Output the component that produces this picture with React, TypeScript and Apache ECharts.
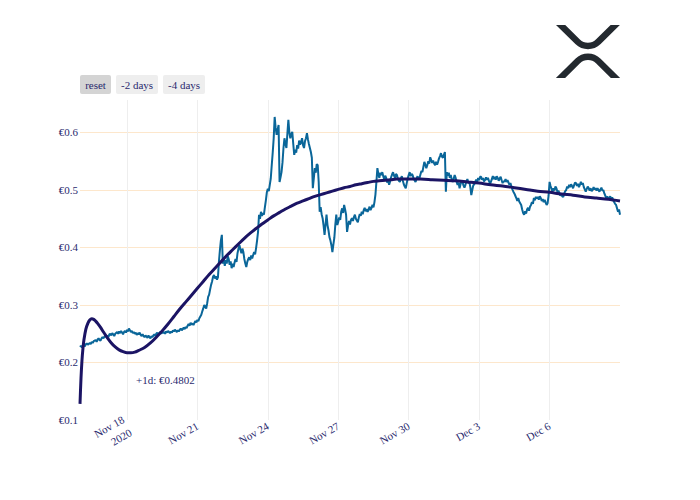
import React, { useEffect, useRef } from "react";
import * as echarts from "echarts";

// x values are hours since 16 Nov 2020 00:00
const END_HOURS = 552; // 9 Dec 2020 00:00

// XRP price in EUR (hour offset, price)
const priceData: [number, number][] = [
  [0,0.227],[1,0.229],[2,0.226],[3,0.230],[4,0.231],[5,0.228],[6,0.232],[7,0.233],[8,0.231],[10,0.234],[11,0.232],[12,0.236],[13,0.234],[14,0.237],[16,0.239],[17,0.236],[18,0.240],[19,0.242],[20,0.239],[21,0.238],[22,0.242],[23,0.244],[24,0.242],[25,0.245],[26,0.247],[27,0.244],[28,0.247],[29,0.244],[30,0.249],[31,0.250],[32,0.247],[33,0.251],[34,0.249],[35,0.246],[36,0.250],[38,0.253],[39,0.250],[40,0.254],[41,0.251],[42,0.255],[43,0.252],[44,0.249],[45,0.253],[46,0.255],[47,0.252],[48,0.257],[49,0.254],[50,0.259],[51,0.256],[52,0.253],[53,0.255],[54,0.251],[55,0.253],[56,0.250],[57,0.252],[58,0.248],[59,0.251],[60,0.249],[61,0.252],[62,0.248],[63,0.246],[64,0.249],[65,0.246],[66,0.244],[67,0.247],[68,0.245],[69,0.243],[70,0.247],[71,0.244],[72,0.242],[73,0.246],[74,0.244],[75,0.247],[76,0.249],[77,0.246],[78,0.250],[79,0.252],[80,0.248],[81,0.251],[82,0.253],[83,0.250],[84,0.254],[85,0.251],[86,0.253],[87,0.250],[88,0.254],[89,0.252],[90,0.255],[91,0.253],[92,0.251],[93,0.254],[94,0.252],[95,0.256],[96,0.254],[97,0.257],[98,0.255],[99,0.253],[100,0.256],[101,0.254],[102,0.257],[103,0.259],[104,0.256],[105,0.258],[106,0.261],[107,0.258],[108,0.262],[109,0.260],[110,0.264],[111,0.267],[112,0.264],[113,0.269],[114,0.266],[115,0.268],[116,0.265],[117,0.269],[118,0.272],[119,0.270],
  [120,0.274],[121,0.272],[122,0.277],[123,0.280],[124,0.283],[125,0.289],[126,0.294],[127,0.300],[128,0.297],[129,0.294],[130,0.303],[131,0.314],[132,0.318],[133,0.327],[134,0.335],[135,0.341],[136,0.349],[137,0.352],[138,0.346],[139,0.350],[140,0.344],[141,0.348],[142,0.375],[143,0.395],[144,0.412],[145,0.422],[146,0.372],[147,0.380],[148,0.368],[149,0.378],[150,0.372],[151,0.385],[152,0.380],[153,0.370],[154,0.376],[155,0.364],[156,0.372],[157,0.366],[158,0.374],[159,0.380],[160,0.375],[161,0.390],[162,0.398],[163,0.404],[164,0.396],[165,0.390],[166,0.398],[167,0.392],[168,0.380],[169,0.372],[170,0.366],[171,0.375],[172,0.380],[173,0.383],[174,0.378],[175,0.386],[176,0.381],[177,0.387],[178,0.392],[179,0.388],[180,0.399],[181,0.412],[182,0.427],[183,0.457],[184,0.450],[185,0.462],[186,0.455],[187,0.460],[188,0.457],[189,0.470],[190,0.482],[191,0.496],[192,0.502],[193,0.498],[194,0.509],[195,0.520],[196,0.543],[197,0.565],[198,0.590],[199,0.627],[200,0.608],[201,0.596],[202,0.605],[203,0.613],[204,0.514],[205,0.522],[206,0.531],[207,0.548],[208,0.573],[209,0.590],[210,0.580],[211,0.573],[212,0.598],[213,0.622],[214,0.600],[215,0.590],[216,0.597],[217,0.601],[218,0.580],[219,0.561],
  [220,0.570],[221,0.565],[222,0.578],[223,0.572],[224,0.586],[225,0.579],[226,0.583],[227,0.590],[228,0.578],[229,0.573],[230,0.585],[231,0.590],[232,0.599],[233,0.588],[234,0.580],[235,0.573],[236,0.566],[237,0.556],[238,0.503],[239,0.520],[240,0.538],[241,0.530],[242,0.545],[243,0.543],[244,0.514],[245,0.462],[246,0.470],[247,0.458],[248,0.451],[249,0.438],[250,0.422],[251,0.440],[252,0.457],[253,0.439],[254,0.430],[255,0.418],[256,0.412],[257,0.404],[258,0.392],[259,0.405],[260,0.417],[261,0.440],[262,0.457],[263,0.439],[264,0.445],[265,0.452],[266,0.448],[267,0.462],[268,0.468],[269,0.460],[270,0.474],[271,0.466],[272,0.457],[273,0.427],[274,0.438],[275,0.446],[276,0.440],[277,0.448],[278,0.451],[279,0.446],[280,0.453],[281,0.457],[282,0.450],[283,0.447],[284,0.444],[285,0.452],[286,0.458],[287,0.455],[288,0.462],[289,0.458],[290,0.465],[291,0.469],[292,0.463],[293,0.467],[294,0.462],[295,0.466],[296,0.471],[297,0.465],[298,0.469],[299,0.474],[300,0.470],[301,0.479],[302,0.492],[303,0.514],[304,0.538],[305,0.528],[306,0.521],[307,0.530],[308,0.526],[309,0.531],[310,0.524],[311,0.518],[312,0.525],[313,0.521],[314,0.513],[315,0.516],[316,0.509],[317,0.515],[318,0.522],[319,0.527],
  [320,0.531],[321,0.525],[322,0.521],[323,0.528],[324,0.526],[325,0.519],[326,0.516],[327,0.514],[328,0.520],[329,0.524],[330,0.516],[331,0.510],[332,0.506],[333,0.503],[334,0.512],[335,0.520],[336,0.526],[337,0.531],[338,0.524],[339,0.528],[340,0.526],[341,0.520],[342,0.517],[343,0.514],[344,0.519],[345,0.524],[346,0.518],[347,0.521],[348,0.527],[349,0.533],[350,0.531],[351,0.540],[352,0.549],[353,0.544],[354,0.538],[355,0.543],[356,0.550],[357,0.546],[358,0.557],[359,0.552],[360,0.547],[361,0.551],[362,0.546],[363,0.543],[364,0.549],[365,0.544],[366,0.549],[367,0.555],[368,0.559],[369,0.564],[370,0.558],[371,0.556],[372,0.561],[373,0.566],[374,0.497],[375,0.531],[376,0.525],[377,0.530],[378,0.521],[379,0.526],[380,0.518],[381,0.514],[382,0.520],[383,0.526],[384,0.521],[385,0.514],[386,0.509],[387,0.513],[388,0.503],[389,0.510],[390,0.516],[391,0.514],[392,0.508],[393,0.504],[394,0.509],[395,0.515],[396,0.519],[397,0.512],[398,0.514],[399,0.505],[400,0.491],[401,0.500],[402,0.508],[403,0.510],[404,0.514],[405,0.518],[406,0.514],[407,0.521],[408,0.517],[409,0.523],[410,0.523],[411,0.518],[412,0.521],[413,0.515],[414,0.517],[415,0.522],[416,0.518],[417,0.521],[418,0.516],[419,0.511],
  [420,0.514],[421,0.519],[422,0.524],[423,0.519],[424,0.523],[425,0.518],[426,0.524],[427,0.521],[428,0.516],[429,0.520],[430,0.523],[431,0.517],[432,0.512],[433,0.516],[434,0.514],[435,0.519],[436,0.514],[437,0.517],[438,0.513],[439,0.509],[440,0.512],[441,0.506],[442,0.501],[443,0.497],[444,0.494],[445,0.490],[446,0.486],[447,0.481],[448,0.486],[449,0.480],[450,0.477],[451,0.474],[452,0.466],[453,0.460],[454,0.457],[455,0.463],[456,0.459],[457,0.466],[458,0.469],[459,0.464],[460,0.471],[461,0.474],[462,0.479],[463,0.476],[464,0.486],[465,0.482],[466,0.488],[467,0.485],[468,0.488],[469,0.483],[470,0.489],[471,0.486],[472,0.481],[473,0.484],[474,0.479],[475,0.483],[476,0.478],[477,0.474],[478,0.477],[479,0.490],[480,0.514],[481,0.507],[482,0.502],[483,0.497],[484,0.503],[485,0.499],[486,0.506],[487,0.503],[488,0.497],[489,0.499],[490,0.495],[491,0.490],[492,0.494],[493,0.489],[494,0.488],[495,0.494],[496,0.498],[497,0.500],[498,0.506],[499,0.503],[500,0.509],[501,0.505],[502,0.510],[503,0.507],[504,0.503],[505,0.508],[506,0.513],[507,0.512],[508,0.507],[509,0.511],[510,0.505],[511,0.509],[512,0.514],[513,0.510],[514,0.512],[515,0.505],[516,0.501],[517,0.497],[518,0.502],[519,0.506],[520,0.503],[521,0.499],[522,0.503],[523,0.498],[524,0.500],[525,0.505],[526,0.501],[527,0.503],[528,0.499],[529,0.503],[530,0.500],[531,0.497],[532,0.501],[533,0.504],[534,0.499],[535,0.500],[536,0.494],[537,0.490],[538,0.486],[539,0.489],[540,0.484],[541,0.486],[542,0.489],[543,0.484],[544,0.487],[545,0.483],[546,0.479],[547,0.476],[548,0.474],[549,0.468],[550,0.462],[551,0.466],[552,0.457],
];

// Polynomial trend fit (hour offset, value)
const fitData: [number, number][] = [
  [0,0.128],[1,0.172],[2,0.203],[3,0.224],[4,0.239],[6,0.258],[8,0.268],[10,0.274],[12,0.276],[14,0.275],[16,0.272],[18,0.268],[21,0.261],[24,0.253],[28,0.243],[32,0.234],[36,0.227],[40,0.222],[44,0.219],[48,0.217],[52,0.217],[56,0.218],[60,0.221],[66,0.226],[72,0.234],[78,0.244],[84,0.255],[90,0.267],[96,0.280],[102,0.293],[108,0.305],[114,0.317],[120,0.329],[126,0.341],[132,0.353],[138,0.364],[144,0.375],[150,0.386],[156,0.396],[162,0.406],[168,0.416],[174,0.425],[180,0.433],[186,0.441],[192,0.448],[198,0.455],[204,0.461],[210,0.467],[216,0.472],[222,0.477],[228,0.481],[234,0.485],[240,0.489],[246,0.492],[252,0.495],[258,0.498],[264,0.501],[270,0.504],[276,0.506],[282,0.509],[288,0.511],[294,0.513],[300,0.515],[306,0.516],[312,0.517],[318,0.518],[324,0.519],[336,0.519],[348,0.519],[360,0.518],[372,0.517],[384,0.516],[396,0.514],[408,0.512],[420,0.509],[432,0.507],[444,0.504],[456,0.501],[468,0.498],[480,0.496],[492,0.493],[504,0.491],[516,0.488],[528,0.486],[540,0.484],[552,0.481],
];

// tick positions (hours since 16 Nov) and their labels
const xTickHours = [48, 120, 192, 264, 336, 408, 480];
const xTickLabels = ["Nov 18\n2020", "Nov 21", "Nov 24", "Nov 27", "Nov 30", "Dec 3", "Dec 6"];
const yTickStep = 0.1;
const yMin = 0.1;
const yMax = 0.6565;
const buttonLabels = ["reset", "-2 days", "-4 days"];
const annotationText = "+1d: €0.4802";

const XRP_PATH =
  "M437,0h74L357,152.48c-55.77,55.19-146.19,55.19-202,0L0,0H74L191,115.83a91.9,91.9,0,0,0,128,0Z" +
  "M73.05,424H-1L155,269.53c55.77-55.19,146.19-55.19,202,0L513,424H439L320,306.67a91.9,91.9,0,0,0-128,0Z";

const FONT = "'Liberation Serif', 'Times New Roman', serif";
const TEXT = "#2a2a6e";

let registered = false;

export default function App() {
  const ref = useRef<HTMLDivElement>(null);
  useEffect(() => {
    if (!ref.current) return;
    if (!registered) {
      echarts.graphic.registerShape("xrplogo", echarts.graphic.extendPath(XRP_PATH, {}));
      registered = true;
    }
    const chart = echarts.init(ref.current, null, { renderer: "svg" });
    const labelFor = (v: number) => {
      const i = xTickHours.indexOf(Math.round(v));
      return i >= 0 ? xTickLabels[i] : "";
    };
    const btnX = [80, 116, 163];
    const btnW = [31, 42, 42];
    chart.setOption({
      animation: false,
      backgroundColor: "#ffffff",
      grid: { left: 80, right: 80, top: 100, bottom: 80, containLabel: false },
      xAxis: {
        type: "value",
        min: 0,
        max: END_HOURS,
        axisLine: { show: false },
        axisTick: { show: false, customValues: xTickHours },
        splitLine: { show: true, lineStyle: { color: "#eeeeee", width: 1 } },
        axisLabel: {
          customValues: xTickHours,
          rotate: 30,
          margin: 5,
          fontFamily: FONT,
          fontSize: 11,
          color: TEXT,
          lineHeight: 15,
          hideOverlap: false,
          formatter: (v: number) => labelFor(v),
        },
      },
      yAxis: {
        type: "value",
        min: yMin,
        max: yMax,
        interval: yTickStep,
        axisLine: { show: false },
        axisTick: { show: false },
        splitLine: { show: true, showMinLine: false, showMaxLine: false, lineStyle: { color: "#fde7cc", width: 1 } },
        axisLabel: {
          margin: 2,
          fontFamily: FONT,
          fontSize: 11,
          color: TEXT,
          showMaxLabel: false,
          formatter: (v: number) => "€" + v.toFixed(1),
        },
      },
      series: [
        {
          type: "line",
          name: "price",
          data: priceData,
          showSymbol: false,
          lineStyle: { color: "#0a6699", width: 2 },
          itemStyle: { color: "#0a6699" },
          clip: true,
        },
        {
          type: "line",
          name: "fit",
          data: fitData,
          showSymbol: false,
          smooth: 0.3,
          lineStyle: { color: "#1b1464", width: 3 },
          itemStyle: { color: "#1b1464" },
          clip: true,
        },
      ],
      graphic: [
        ...buttonLabels.flatMap((label, i) => [
          {
            type: "rect",
            shape: { x: btnX[i], y: 75, width: btnW[i], height: 19, r: 2 },
            style: { fill: i === 0 ? "#d4d4d4" : "#eeeeee" },
          },
          {
            type: "text",
            x: btnX[i] + btnW[i] / 2,
            y: 84.5,
            style: {
              text: label,
              fill: TEXT,
              font: `11px ${FONT}`,
              align: "center",
              verticalAlign: "middle",
            },
          },
        ]),
        {
          type: "text",
          x: 136,
          y: 380,
          z: 100,
          style: {
            text: annotationText,
            fill: TEXT,
            font: `11px ${FONT}`,
            align: "left",
            verticalAlign: "middle",
          },
        },
        {
          type: "xrplogo",
          x: 556,
          y: 25,
          scaleX: 0.125,
          scaleY: 0.125,
          style: { fill: "#23292f" },
        },
      ],
    });
    return () => chart.dispose();
  }, []);
  return (
    <div
      ref={ref}
      style={{ position: "fixed", left: 0, top: 0, width: 700, height: 500 }}
    />
  );
}
